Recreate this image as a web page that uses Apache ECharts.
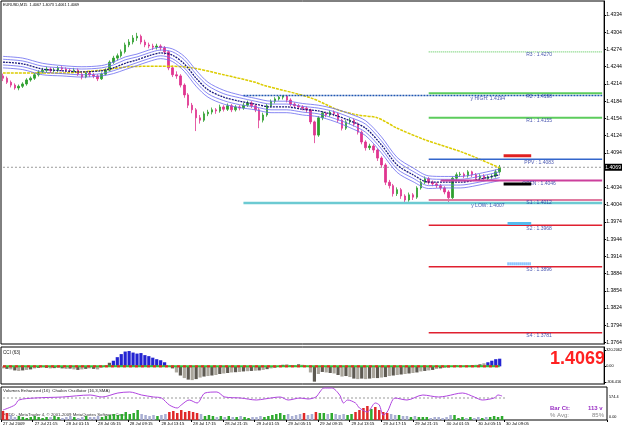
<!DOCTYPE html>
<html>
<head>
<meta charset="utf-8">
<script src="https://cdn.jsdelivr.net/npm/echarts@6/dist/echarts.min.js"></script>
<style>
html, body { margin: 0; padding: 0; background: #fff; }
#chart { width: 625px; height: 429px; }
</style>
</head>
<body>
<div id="chart"></div>
<script>
// EURUSD M30-ish bars: [open, close, low, high]
var candles = [
	[1.4228,1.4224,1.4219,1.4232],[1.4224,1.4217,1.4214,1.4227],[1.4217,1.4212,1.4208,1.4220],[1.4212,1.4207,1.4204,1.4215],
	[1.4207,1.4210,1.4203,1.4213],[1.4210,1.4214,1.4207,1.4217],[1.4214,1.4221,1.4211,1.4224],[1.4221,1.4224,1.4218,1.4227],
	[1.4224,1.4230,1.4221,1.4233],[1.4230,1.4235,1.4227,1.4238],[1.4235,1.4238,1.4232,1.4242],[1.4238,1.4240,1.4234,1.4244],
	[1.4240,1.4237,1.4233,1.4243],[1.4237,1.4238,1.4234,1.4242],[1.4238,1.4242,1.4235,1.4245],[1.4242,1.4240,1.4236,1.4245],
	[1.4240,1.4238,1.4234,1.4243],[1.4238,1.4237,1.4233,1.4241],[1.4237,1.4238,1.4233,1.4242],[1.4238,1.4231,1.4228,1.4241],
	[1.4231,1.4226,1.4222,1.4234],[1.4226,1.4233,1.4224,1.4236],[1.4233,1.4230,1.4226,1.4236],[1.4230,1.4228,1.4224,1.4233],
	[1.4228,1.4223,1.4219,1.4231],[1.4223,1.4231,1.4221,1.4234],[1.4231,1.4238,1.4229,1.4241],[1.4238,1.4252,1.4236,1.4255],
	[1.4252,1.4259,1.4249,1.4263],[1.4259,1.4263,1.4255,1.4267],[1.4263,1.4270,1.4260,1.4274],[1.4270,1.4282,1.4267,1.4286],
	[1.4282,1.4287,1.4278,1.4292],[1.4287,1.4294,1.4283,1.4299],[1.4294,1.4297,1.4289,1.4303],[1.4297,1.4287,1.4283,1.4300],
	[1.4287,1.4282,1.4278,1.4291],[1.4282,1.4280,1.4276,1.4286],[1.4280,1.4278,1.4273,1.4284],[1.4278,1.4280,1.4274,1.4284],
	[1.4280,1.4277,1.4272,1.4283],[1.4277,1.4270,1.4265,1.4280],[1.4270,1.4242,1.4238,1.4272],[1.4242,1.4230,1.4226,1.4246],
	[1.4230,1.4228,1.4223,1.4236],[1.4228,1.4212,1.4208,1.4231],[1.4212,1.4195,1.4190,1.4215],[1.4195,1.4177,1.4172,1.4198],
	[1.4177,1.4169,1.4163,1.4181],[1.4169,1.4155,1.4132,1.4172],[1.4155,1.4151,1.4145,1.4160],[1.4151,1.4162,1.4148,1.4166],
	[1.4162,1.4165,1.4158,1.4169],[1.4165,1.4169,1.4161,1.4173],[1.4169,1.4167,1.4162,1.4172],[1.4167,1.4174,1.4164,1.4178],
	[1.4174,1.4170,1.4166,1.4177],[1.4170,1.4176,1.4167,1.4180],[1.4176,1.4169,1.4165,1.4179],[1.4169,1.4174,1.4166,1.4177],
	[1.4174,1.4172,1.4168,1.4177],[1.4172,1.4177,1.4169,1.4181],[1.4177,1.4181,1.4174,1.4185],[1.4181,1.4176,1.4172,1.4184],
	[1.4176,1.4169,1.4165,1.4179],[1.4169,1.4151,1.4137,1.4172],[1.4151,1.4160,1.4147,1.4164],[1.4160,1.4176,1.4157,1.4179],
	[1.4176,1.4184,1.4173,1.4187],[1.4184,1.4188,1.4180,1.4191],[1.4188,1.4191,1.4185,1.4193],[1.4191,1.4193,1.4187,1.4194],
	[1.4193,1.4186,1.4182,1.4194],[1.4186,1.4179,1.4175,1.4189],[1.4179,1.4176,1.4172,1.4182],[1.4176,1.4174,1.4170,1.4179],
	[1.4174,1.4172,1.4168,1.4177],[1.4172,1.4169,1.4164,1.4175],[1.4169,1.4148,1.4144,1.4171],[1.4148,1.4125,1.4111,1.4150],
	[1.4125,1.4155,1.4122,1.4158],[1.4155,1.4163,1.4151,1.4167],[1.4163,1.4160,1.4156,1.4166],[1.4160,1.4165,1.4157,1.4168],
	[1.4165,1.4162,1.4158,1.4168],[1.4162,1.4151,1.4147,1.4164],[1.4151,1.4137,1.4133,1.4153],[1.4137,1.4148,1.4134,1.4151],
	[1.4148,1.4151,1.4144,1.4155],[1.4151,1.4144,1.4140,1.4154],[1.4144,1.4130,1.4126,1.4147],[1.4130,1.4113,1.4109,1.4133],
	[1.4113,1.4103,1.4098,1.4116],[1.4103,1.4106,1.4099,1.4110],[1.4106,1.4099,1.4094,1.4109],[1.4099,1.4085,1.4080,1.4102],
	[1.4085,1.4073,1.4068,1.4088],[1.4073,1.4043,1.4038,1.4076],[1.4043,1.4037,1.4032,1.4047],[1.4037,1.4023,1.4018,1.4040],
	[1.4023,1.4030,1.4019,1.4034],[1.4030,1.4019,1.4014,1.4033],[1.4019,1.4012,1.4007,1.4022],[1.4012,1.4021,1.4009,1.4025],
	[1.4021,1.4017,1.4012,1.4024],[1.4017,1.4033,1.4014,1.4036],[1.4033,1.4043,1.4030,1.4046],[1.4043,1.4049,1.4040,1.4053],
	[1.4049,1.4043,1.4039,1.4052],[1.4043,1.4040,1.4036,1.4046],[1.4040,1.4037,1.4033,1.4043],[1.4037,1.4033,1.4029,1.4040],
	[1.4033,1.4026,1.4022,1.4036],[1.4026,1.4016,1.4007,1.4029],[1.4016,1.4050,1.4013,1.4053],[1.4050,1.4056,1.4047,1.4060],
	[1.4056,1.4057,1.4052,1.4061],[1.4057,1.4054,1.4050,1.4060],[1.4054,1.4061,1.4051,1.4064],[1.4061,1.4056,1.4052,1.4063],
	[1.4056,1.4050,1.4046,1.4059],[1.4050,1.4054,1.4047,1.4057],[1.4054,1.4049,1.4045,1.4057],[1.4049,1.4052,1.4046,1.4055],
	[1.4052,1.4054,1.4049,1.4057],[1.4054,1.4061,1.4051,1.4065],[1.4061,1.4069,1.4058,1.4073]
];
var lastPrice = 1.4069;

// slow MA (yellow), sampled bar index -> value
var maBars = [0,15,25,32,42,48,56,64,66,78,85,90,95,100,107,117,126];
var maValues = [1.4233,1.4233,1.4238,1.4244,1.4245,1.4242,1.4230,1.4217,1.4212,1.4190,1.4169,1.4160,1.4155,1.4137,1.4117,1.4094,1.4068];

// blue ribbon: middle line and half widths of the inner / outer lines
var ribbonBars = [0,5,10,15,20,25,28,31,34,37,40,43,46,49,52,56,60,64,68,72,76,80,84,88,92,96,100,104,108,112,116,120,126];
var ribbonMid = [1.4252,1.4249,1.4240,1.4237,1.4235,1.4237,1.4242,1.4250,1.4256,1.4263,1.4268,1.4264,1.4249,1.4224,1.4204,1.4191,1.4184,1.4179,1.4174,1.4174,1.4170,1.4167,1.4160,1.4150,1.4137,1.4108,1.4073,1.4056,1.4043,1.4043,1.4043,1.4047,1.4056];
var bandOuter = [0.0010,0.0010,0.0010,0.0009,0.0009,0.0009,0.0010,0.0011,0.0010,0.0010,0.0010,0.0011,0.0013,0.0014,0.0013,0.0012,0.0011,0.0010,0.0010,0.0010,0.0010,0.0010,0.0011,0.0012,0.0013,0.0014,0.0013,0.0012,0.0011,0.0010,0.0010,0.0010,0.0010];
var bandInner = [0.0005,0.0005,0.0005,0.0005,0.0005,0.0005,0.0005,0.0006,0.0005,0.0005,0.0005,0.0006,0.0007,0.0007,0.0007,0.0006,0.0006,0.0005,0.0005,0.0005,0.0005,0.0005,0.0006,0.0006,0.0007,0.0007,0.0007,0.0006,0.0006,0.0005,0.0005,0.0005,0.0005];

// pivot levels and yesterday high / low
var pivotNames = ['R3','R2','R1','PPV','OPEN','S1','S2','S3','S4'];
var pivotValues = [1.4270,1.4198,1.4155,1.4083,1.4046,1.4012,1.3968,1.3896,1.3781];
var dayNames = ['y HIGH','y LOW'];
var dayValues = [1.4194,1.4007];
var markerValues = [1.4089,1.4040,1.3971,1.3901];

// CCI(63)
var cci = [
	-40,-50,-60,-80,-90,-80,-70,-60,-40,-30,
	-20,-30,-40,-35,-30,-40,-50,-45,-60,-70,
	-60,-50,-40,-50,-60,-20,20,70,110,180,
	240,290,300,270,250,260,220,200,170,140,
	120,80,10,-40,-120,-180,-230,-260,-270,-250,
	-220,-200,-190,-180,-170,-150,-140,-130,-120,-115,
	-110,-100,-95,-90,-85,-80,-70,-55,-40,-25,
	-10,30,40,20,25,40,30,10,-120,-300,
	-150,-110,-120,-130,-140,-170,-200,-190,-210,-240,
	-250,-240,-250,-240,-230,-230,-220,-210,-190,-180,
	-170,-160,-150,-140,-130,-120,-100,-90,-80,-70,
	-50,-40,-30,-20,10,20,15,10,20,25,
	30,40,60,80,110,140,150
];
var cciTicks = [320.2062, 0, -306.416];

// volumes and Chaikin oscillator
var volumes = [
	360,280,200,120,160,120,80,120,160,120,80,120,120,160,120,80,120,160,120,80,120,160,120,120,160,120,
	160,200,240,200,240,320,240,280,400,240,
	200,160,200,160,200,
	240,320,360,280,400,320,360,320,280,240,
	160,200,160,120,160,120,160,120,120,160,120,80,120,120,160,
	120,160,200,240,280,200,240,160,200,240,280,200,240,320,
	280,280,240,280,240,200,240,
	200,240,320,400,480,560,440,520,400,320,280,240,200,200,
	160,160,120,160,120,120,120,80,120,120,80,120,
	200,200,
	80,120,80,120,80,120,80,120,120,160,120,160
];
var chaikinBars = [0,3,4,8,15,22,25,29,32,35,38,40,42,44,45,47,49,51,54,56,60,64,66,70,72,75,77,79,80,81,83,85,86,87,89,90,92,94,95,96,97,99,102,106,110,112,116,119,121,124,125,126];
var chaikinValues = [-240,-140,-40,0,20,60,20,100,120,60,20,0,-140,-200,-140,-40,-100,100,120,20,0,-40,-20,20,-40,0,-20,20,120,200,200,60,-100,-40,-100,-200,-280,-100,-140,-340,-280,0,-40,60,20,40,100,20,-40,0,60,40];

// price axis and time axis labels
var priceTicks = [1.3764,1.3794,1.3824,1.3854,1.3884,1.3914,1.3944,1.3974,1.4004,1.4034,1.4094,1.4124,1.4154,1.4184,1.4214,1.4244,1.4274,1.4304,1.4334];
var timeLabels = ['27 Jul 2009','27 Jul 21:15','28 Jul 01:15','28 Jul 05:15','28 Jul 09:15','28 Jul 13:15','28 Jul 17:15','28 Jul 21:15','29 Jul 01:15','29 Jul 05:15','29 Jul 09:15','29 Jul 13:15','29 Jul 17:15','29 Jul 21:15','30 Jul 01:15','30 Jul 05:15','30 Jul 09:05'];
var timeLabelBars = [0,8,16,24,32,40,48,56,64,72,80,88,96,104,112,120,127];

var SLOTS = 153;
var LAST = SLOTS - 1;
var FONT = 'Liberation Sans';

var cats = [];
for (var i = 0; i < SLOTS; i++) {
	cats.push(String(i));
}
var labelAt = {};
timeLabelBars.forEach(function (b, k) {
	labelAt[b] = timeLabels[k];
});

var pairs = function (bars, vals, add, sign) {
	return bars.map(function (b, k) {
		return [b, add ? vals[k] + sign * add[k] : vals[k]];
	});
};

var flatLine = function (from, to, v) {
	return [[from, v], [to, v]];
};

var series = [];

// current price line with the boxed price on the axis
series.push({
	type: 'line', xAxisIndex: 0, yAxisIndex: 0, symbol: 'none', silent: true,
	data: flatLine(0, LAST, lastPrice),
	lineStyle: {color: '#9a9a9a', type: [2, 2], width: 1},
	endLabel: {show: true, formatter: lastPrice.toFixed(4), backgroundColor: '#000', color: '#fff',
		fontSize: 5.2, fontFamily: FONT, padding: [1, 1], distance: 2}
});

series.push({
	type: 'candlestick', xAxisIndex: 0, yAxisIndex: 0,
	data: candles, barWidth: 2,
	itemStyle: {color: '#2ea02e', color0: '#e0358f', borderColor: '#2ea02e', borderColor0: '#e0358f', borderWidth: 0.8}
});

// yellow MA
series.push({
	type: 'line', xAxisIndex: 0, yAxisIndex: 0, symbol: 'none', smooth: 0.3,
	data: pairs(maBars, maValues),
	lineStyle: {color: '#dccc00', width: 1.5, type: [3, 1]}
});

// blue ribbon
[[bandOuter, 1], [bandInner, 1], [bandInner, -1], [bandOuter, -1]].forEach(function (b) {
	series.push({
		type: 'line', xAxisIndex: 0, yAxisIndex: 0, symbol: 'none', smooth: 0.3,
		data: pairs(ribbonBars, ribbonMid, b[0], b[1]),
		lineStyle: {color: '#6a6af0', width: 0.8}
	});
});
series.push({
	type: 'line', xAxisIndex: 0, yAxisIndex: 0, symbol: 'none', smooth: 0.3,
	data: pairs(ribbonBars, ribbonMid),
	lineStyle: {color: '#1a1a80', width: 1.3, type: [2, 1]}
});

// yesterday high / low
var dayStyle = [
	{c: '#1f55b0', w: 1.5, t: [2, 1]},
	{c: '#6ccad2', w: 2.5, t: 'solid'}
];
dayValues.forEach(function (v, k) {
	series.push({
		type: 'line', xAxisIndex: 0, yAxisIndex: 0, symbol: 'none',
		data: flatLine(61, LAST, v),
		lineStyle: {color: dayStyle[k].c, width: dayStyle[k].w, type: dayStyle[k].t}
	});
});

// pivot lines
var pivotStyle = {
	R3: {c: '#70d070', w: 1.2, t: [1, 1], from: 108},
	R2: {c: '#5ccc5c', w: 2, t: 'solid', from: 108},
	R1: {c: '#5ccc5c', w: 2, t: 'solid', from: 108},
	PPV: {c: '#3366cc', w: 1.5, t: 'solid', from: 108},
	OPEN: {c: '#cc3f9c', w: 2, t: 'solid', from: 111},
	S1: {c: '#e07aa0', w: 2, t: 'solid', from: 108},
	S2: {c: '#e02030', w: 1.5, t: 'solid', from: 108},
	S3: {c: '#e02030', w: 1.5, t: 'solid', from: 108},
	S4: {c: '#e02030', w: 1.5, t: 'solid', from: 108}
};
pivotNames.forEach(function (n, k) {
	var st = pivotStyle[n];
	series.push({
		type: 'line', xAxisIndex: 0, yAxisIndex: 0, symbol: 'none',
		data: flatLine(st.from, LAST, pivotValues[k]),
		lineStyle: {color: st.c, width: st.w, type: st.t}
	});
});

// level texts
var levelLabel = {show: true, position: 'bottom', distance: 0.5, fontSize: 5, fontFamily: FONT, color: '#1c2c9c',
	formatter: function (p) { return p.data[2]; }};
series.push({
	type: 'scatter', xAxisIndex: 0, yAxisIndex: 0, symbolSize: 0, silent: true, z: 5,
	data: pivotNames.map(function (n, k) {
		return [136, pivotValues[k], n + ' : ' + pivotValues[k].toFixed(4)];
	}).concat(dayNames.map(function (n, k) {
		return [123, dayValues[k], n + ': ' + dayValues[k].toFixed(4)];
	})),
	label: levelLabel
});

// short thick markers at the right of the last bar
var markerStyle = [
	{c: '#e02020', t: 'solid', from: 127},
	{c: '#000000', t: 'solid', from: 127},
	{c: '#55bbee', t: 'solid', from: 128},
	{c: '#3399ff', t: [1, 1], from: 128}
];
markerValues.forEach(function (v, k) {
	series.push({
		type: 'line', xAxisIndex: 0, yAxisIndex: 0, symbol: 'none', z: 6,
		data: flatLine(markerStyle[k].from, 134, v),
		lineStyle: {color: markerStyle[k].c, width: 3, type: markerStyle[k].t}
	});
});

// CCI
series.push({
	type: 'bar', xAxisIndex: 1, yAxisIndex: 1, data: cci, barWidth: 3.2,
	itemStyle: {
		color: function (p) {
			if (p.value > 75) return '#2424d2';
			return p.dataIndex % 2 ? '#5e5a52' : '#aaa69c';
		}
	}
});
series.push({
	type: 'line', xAxisIndex: 1, yAxisIndex: 1, symbol: 'none',
	data: flatLine(0, candles.length - 1, 0),
	lineStyle: {color: '#33c433', width: 2}
});
series.push({
	type: 'line', xAxisIndex: 1, yAxisIndex: 1, symbol: 'none',
	data: flatLine(0, candles.length - 1, 0),
	lineStyle: {color: '#ee2222', width: 2, type: [3, 3]}
});

// volumes
series.push({
	type: 'bar', xAxisIndex: 2, yAxisIndex: 2, data: volumes, barWidth: 2.5,
	itemStyle: {
		color: function (p) {
			var c = candles[p.dataIndex];
			var up = c[1] >= c[0];
			if (!up && p.value >= 280) return '#e02828';
			return up ? '#2eaa2e' : '#a8aed2';
		}
	}
});
series.push({
	type: 'line', xAxisIndex: 2, yAxisIndex: 3, symbol: 'none',
	data: flatLine(0, candles.length, 0),
	lineStyle: {color: '#999', width: 1, type: [2, 2]}
});
series.push({
	type: 'line', xAxisIndex: 2, yAxisIndex: 3, symbol: 'none', smooth: 0.3,
	data: pairs(chaikinBars, chaikinValues),
	lineStyle: {color: '#b044e0', width: 1}
});

var gridBase = {left: 1, width: 606, show: true, borderColor: '#000', borderWidth: 1, backgroundColor: '#fff'};
var hiddenX = function (idx) {
	return {type: 'category', gridIndex: idx, data: cats, boundaryGap: true,
		axisLine: {show: false}, axisTick: {show: false}, axisLabel: {show: false}, splitLine: {show: false}};
};
var showLabel = function (index) { return labelAt[index] !== undefined; };

var option = {
	animation: false,
	backgroundColor: '#fff',
	grid: [
		Object.assign({top: 1, height: 343}, gridBase),
		Object.assign({top: 347, height: 37}, gridBase),
		Object.assign({top: 387, height: 33}, gridBase)
	],
	xAxis: [
		hiddenX(0),
		hiddenX(1),
		{
			type: 'category', gridIndex: 2, data: cats, boundaryGap: true,
			axisLine: {show: false},
			axisTick: {show: true, interval: showLabel, length: 2, lineStyle: {color: '#000'}},
			axisLabel: {show: true, interval: showLabel, align: 'left', margin: 2, fontSize: 4.2, fontFamily: FONT, color: '#000',
				formatter: function (v, idx) { return labelAt[idx] || ''; }},
			splitLine: {show: false}
		}
	],
	yAxis: [
		{
			type: 'value', gridIndex: 0, position: 'right', min: 1.376138, max: 1.43584, scale: true,
			axisLine: {show: true, lineStyle: {color: '#000'}},
			axisTick: {show: true, length: 2, customValues: priceTicks, lineStyle: {color: '#000'}},
			axisLabel: {customValues: priceTicks, margin: 2, fontSize: 5.2, fontFamily: FONT, color: '#000',
				formatter: function (v) { return v.toFixed(4); }},
			splitLine: {show: false}
		},
		{
			type: 'value', gridIndex: 1, position: 'right', min: -346, max: 379,
			axisLine: {show: true, lineStyle: {color: '#000'}},
			axisTick: {show: true, length: 2, customValues: cciTicks, lineStyle: {color: '#000'}},
			axisLabel: {customValues: cciTicks, margin: 2, fontSize: 3.8, fontFamily: FONT, color: '#000',
				formatter: function (v) { return v === 0 ? '0.00' : String(v); }},
			splitLine: {show: false}
		},
		{
			type: 'value', gridIndex: 2, position: 'right', min: 0, max: 1320, show: false, splitLine: {show: false}
		},
		{
			type: 'value', gridIndex: 2, position: 'right', min: -440, max: 220, show: false, splitLine: {show: false}
		}
	],
	graphic: [
		{type: 'text', left: 3, top: 3, style: {text: 'EURUSD,M15  1.4067 1.4073 1.4061 1.4069', fontSize: 3.8, fontFamily: FONT, fill: '#000'}},
		{type: 'text', left: 3, top: 350, style: {text: 'CCI (63)', fontSize: 4.6, fontFamily: FONT, fill: '#222'}},
		{type: 'text', left: 3, top: 389, style: {text: 'Volumes Enhanced (16)  Chaikin Oscillator (16,3,SMA)', fontSize: 4.4, fontFamily: FONT, fill: '#222'}},
		{type: 'text', left: 3, top: 413, style: {text: 'FXDD - MetaTrader 4, \u00a9 2001-2009 MetaQuotes Software Corp.', fontSize: 4.3, fontFamily: FONT, fill: '#333'}},
		{type: 'text', left: 550, top: 350, style: {text: '1.4069', font: 'bold 18px "Liberation Sans"', fill: '#ff2020'}},
		{type: 'text', left: 550, top: 405, style: {text: 'Bar Ct:', font: 'bold 6px "Liberation Sans"', fill: '#9a30c4'}},
		{type: 'text', left: 588, top: 405, style: {text: '113 v', font: 'bold 6px "Liberation Sans"', fill: '#9a30c4'}},
		{type: 'text', left: 550, top: 412, style: {text: '% Avg:', font: '6px "Liberation Sans"', fill: '#888'}},
		{type: 'text', left: 592, top: 412, style: {text: '85%', font: '6px "Liberation Sans"', fill: '#888'}},
		{type: 'text', left: 609, top: 395, style: {text: '574.4', fontSize: 3.8, fontFamily: FONT, fill: '#000'}},
		{type: 'text', left: 609, top: 415, style: {text: '0.00', fontSize: 3.8, fontFamily: FONT, fill: '#000'}}
	],
	series: series
};

var chart = echarts.init(document.getElementById('chart'));
chart.setOption(option);
</script>
</body>
</html>
